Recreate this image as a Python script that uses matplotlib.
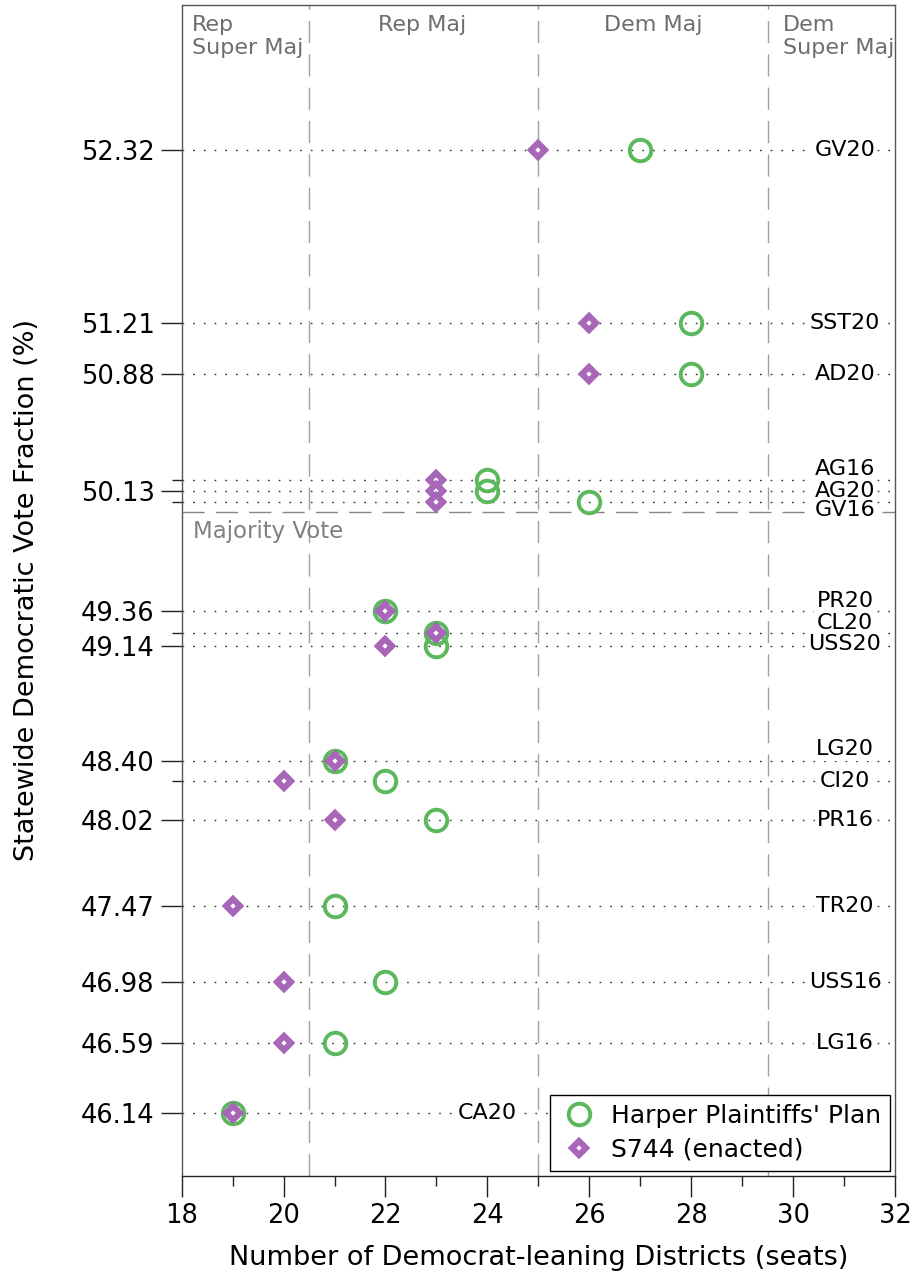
import matplotlib
matplotlib.use("Agg")
import matplotlib.pyplot as plt
from matplotlib.ticker import FixedLocator, MultipleLocator

# ---------------- data ----------------
elections = ["GV20", "SST20", "AD20", "AG16", "AG20", "GV16", "PR20", "CL20",
             "USS20", "LG20", "CI20", "PR16", "TR20", "USS16", "LG16", "CA20"]
vote_pct = [52.32, 51.21, 50.88, 50.20, 50.13, 50.06, 49.36, 49.22,
            49.14, 48.40, 48.27, 48.02, 47.47, 46.98, 46.59, 46.14]
harper_seats = [27, 28, 28, 24, 24, 26, 22, 23, 23, 21, 22, 23, 21, 22, 21, 19]
s744_seats = [25, 26, 26, 23, 23, 23, 22, 23, 22, 21, 20, 21, 19, 20, 20, 19]
labelled_ticks = [52.32, 51.21, 50.88, 50.13, 49.36, 49.14,
                  48.40, 48.02, 47.47, 46.98, 46.59, 46.14]
unlabelled_ticks = [50.20, 50.06, 49.22, 48.27]
region_bounds = [20.5, 25.0, 29.5]
majority = 50.0

# ---------------- styling ----------------
plt.rcParams['font.family'] = ['DejaVu Sans']
plt.rcParams['lines.scale_dashes'] = False
green = '#5cb85c'
purple = '#a866b8'

fig = plt.figure(figsize=(9.17, 12.8), dpi=100)
ax = fig.add_axes([0.1981, 0.0815, 0.976 - 0.1981, 0.9961 - 0.0815])
ax.set_xlim(18, 32)
ax.set_ylim(45.74, 53.25)

# dotted guide lines per election
for v in vote_pct:
    ax.axhline(v, ls=(0, (1.2, 6.5)), lw=1.0, color='#333333', zorder=1)

# region boundaries
for xb in region_bounds:
    ax.axvline(xb, ls=(0, (16, 8)), lw=1.0, color='#a0a0a0', zorder=2)
ax.axhline(majority, ls=(0, (16, 8)), lw=1.0, color='#888888', zorder=2)

# markers
ax.plot(harper_seats, vote_pct, ls='none', marker='o', ms=15.5, mfc='none',
        mec=green, mew=2.8, zorder=4, label="Harper Plaintiffs' Plan")
ax.plot(s744_seats, vote_pct, ls='none', marker='D', ms=7.6, mfc='white',
        mec=purple, mew=4.4, zorder=5, label="S744 (enacted)")

# election labels on the right
offsets = {"AG16": 8.0, "GV16": -5.5, "PR20": 7.5, "CL20": 7.5,
           "USS20": 1.0, "LG20": 8.5}
for name, v in zip(elections, vote_pct):
    xl = 24.0 if name == "CA20" else 31.02
    ax.annotate(name, (xl, v), xytext=(0, offsets.get(name, 0.0)),
                textcoords='offset points', ha='center', va='center',
                fontsize=16, color='black', zorder=3,
                bbox=dict(fc='white', ec='none', pad=1.5))

# region titles
ty = 1 - 10 / 1171
tr = ax.get_xaxis_transform()
gcol = '#6e6e6e'
ax.text(18.2, ty, "Rep\nSuper Maj", transform=tr, ha='left', va='top',
        fontsize=16, color=gcol, linespacing=1.2)
ax.text(22.72, ty, "Rep Maj", transform=tr, ha='center', va='top',
        fontsize=16, color=gcol)
ax.text(27.25, ty, "Dem Maj", transform=tr, ha='center', va='top',
        fontsize=16, color=gcol)
ax.text(29.8, ty, "Dem\nSuper Maj", transform=tr, ha='left', va='top',
        fontsize=16, color=gcol, linespacing=1.2)
ax.text(18.22, 49.875, "Majority Vote", ha='left', va='center',
        fontsize=16.5, color='#808080')

# axes / ticks
ax.yaxis.set_major_locator(FixedLocator(labelled_ticks))
ax.yaxis.set_minor_locator(FixedLocator(unlabelled_ticks))
ax.set_yticklabels([f"{t:.2f}" for t in labelled_ticks])
ax.xaxis.set_major_locator(MultipleLocator(2))
ax.xaxis.set_minor_locator(MultipleLocator(1))
ax.tick_params(which='major', direction='out', length=15, width=1.0,
               labelsize=18.5, pad=4.5, color='#222222')
ax.tick_params(which='minor', direction='out', length=7, width=1.0,
               color='#222222')
for s in ax.spines.values():
    s.set_color('#555555')
    s.set_linewidth(1.0)
ax.spines['bottom'].set_color('#222222')

ax.set_xlabel("Number of Democrat-leaning Districts (seats)", fontsize=19.5,
              labelpad=12)
ax.set_ylabel("Statewide Democratic Vote Fraction (%)", fontsize=19.5,
              labelpad=29)

leg = ax.legend(loc='lower right', fontsize=18, frameon=True, fancybox=False,
                edgecolor='black', framealpha=1, borderaxespad=0.2,
                handletextpad=0.5, labelspacing=0.4, borderpad=0.35,
                handlelength=1.6)
leg.get_frame().set_linewidth(1.0)
leg.set_zorder(10)

fig.savefig("out.png", dpi=100)
